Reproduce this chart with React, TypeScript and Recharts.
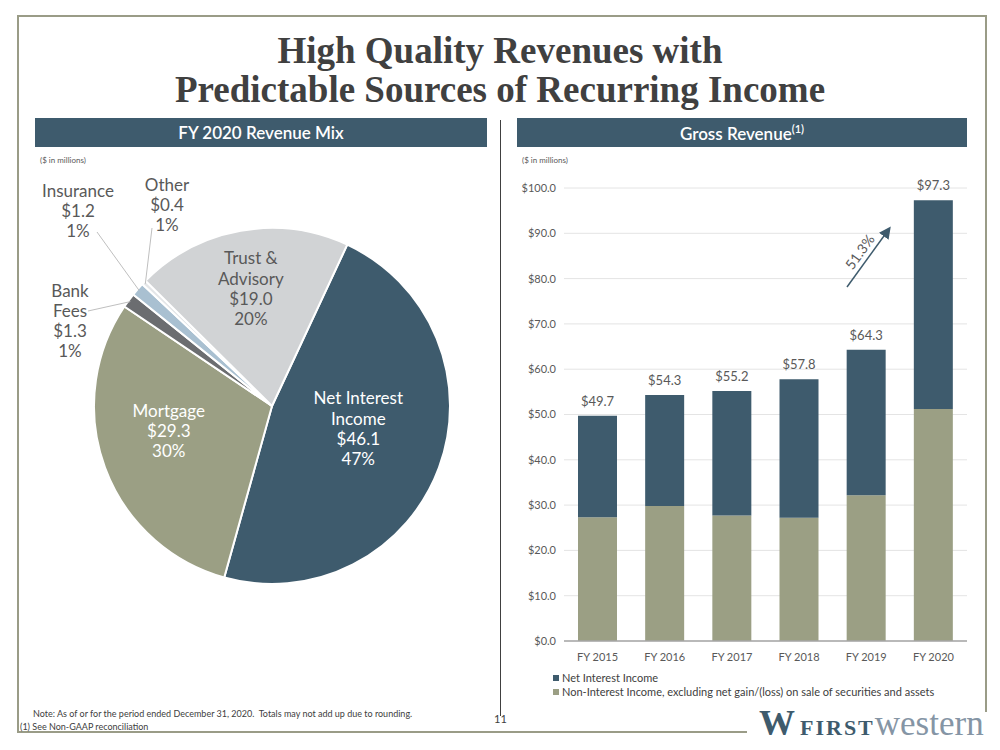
import React from "react";
import {
  PieChart,
  Pie,
  Cell,
  BarChart,
  Bar,
  XAxis,
  YAxis,
  CartesianGrid,
  LabelList,
} from "recharts";

// FY 2020 revenue mix ($ in millions), clockwise from the top-right
const mixNames = ["Net Interest Income", "Mortgage", "Bank Fees", "Insurance", "Other", "Trust & Advisory"];
const mixValues = [46.1, 29.3, 1.3, 1.2, 0.4, 19.0];
const mixShares = [47, 30, 1, 1, 1, 20];
const mixColors = ["#3e5b6d", "#9b9f84", "#6b6d70", "#a9c0d1", "#e4e6e8", "#d1d3d5"];

// gross revenue by year
const years = ["FY 2015", "FY 2016", "FY 2017", "FY 2018", "FY 2019", "FY 2020"];
const nonInterestIncome = [27.3, 29.8, 27.7, 27.2, 32.2, 51.2];
const netInterestIncome = [22.4, 24.5, 27.5, 30.6, 32.1, 46.1];
const grossTotals = [49.7, 54.3, 55.2, 57.8, 64.3, 97.3];
const yTicks = [0, 10, 20, 30, 40, 50, 60, 70, 80, 90, 100];

const SLATE = "#3e5b6d";
const OLIVE = "#9b9f84";
const TEXT = "#595959";
const FONT = "Lato, 'Noto Sans', sans-serif";

const pieData = mixNames.map((name, i) => ({
  name,
  value: mixValues[i],
  share: mixShares[i],
}));

const barData = years.map((year, i) => ({
  year,
  nonInterest: nonInterestIncome[i],
  netInterest: netInterestIncome[i],
  total: grossTotals[i],
}));

// label placement per slice: inside ones use a radius, outside ones an offset from centre
const labelLayout: Record<string, any> = {
  "Net Interest Income": { r: 92, dy: -10, color: "#fff", lines: ["Net Interest", "Income"] },
  Mortgage: { r: 110, dy: -14, color: "#fff", lines: ["Mortgage"] },
  "Trust & Advisory": { r: 120, dy: 0, color: TEXT, lines: ["Trust &", "Advisory"] },
  "Bank Fees": { ox: -202, oy: -86, lines: ["Bank", "Fees"], lead: [-184, -95] },
  Insurance: { ox: -194, oy: -196, lines: ["Insurance"], lead: [-175, -174] },
  Other: { ox: -105, oy: -202, lines: ["Other"], lead: [-120, -178] },
};

const RAD = Math.PI / 180;

function renderPieLabel(props: any) {
  const { cx, cy, midAngle, outerRadius, payload, name } = props;
  const key = name ?? payload?.name;
  const lay = labelLayout[key];
  if (!lay) return null;
  const value = payload?.value ?? props.value;
  const share = payload?.share;
  const lines = [...lay.lines, `$${Number(value).toFixed(1)}`, `${share}%`];
  const lh = 20.3;
  if (lay.r !== undefined) {
    const x = cx + lay.r * Math.cos(-midAngle * RAD);
    const y = cy + lay.r * Math.sin(-midAngle * RAD) + lay.dy;
    const startY = y - ((lines.length - 1) * lh) / 2;
    return (
      <text x={x} y={startY} fill={lay.color} fontSize={17} fontFamily={FONT} textAnchor="middle" dominantBaseline="central">
        {lines.map((l: string, i: number) => (
          <tspan key={i} x={x} dy={i === 0 ? 0 : lh}>
            {l}
          </tspan>
        ))}
      </text>
    );
  }
  const x = cx + lay.ox;
  const y = cy + lay.oy;
  const startY = y - ((lines.length - 1) * lh) / 2;
  const ex = cx + (outerRadius - 2) * Math.cos(-midAngle * RAD);
  const ey = cy + (outerRadius - 2) * Math.sin(-midAngle * RAD);
  return (
    <g>
      <polyline
        points={`${cx + lay.lead[0]},${cy + lay.lead[1]} ${ex},${ey}`}
        fill="none"
        stroke="#bfbfbf"
        strokeWidth={1}
      />
      <text x={x} y={startY} fill={TEXT} fontSize={17} fontFamily={FONT} textAnchor="middle" dominantBaseline="central">
        {lines.map((l: string, i: number) => (
          <tspan key={i} x={x} dy={i === 0 ? 0 : lh}>
            {l}
          </tspan>
        ))}
      </text>
    </g>
  );
}

function HeaderBar({ left, width, children }: any) {
  return (
    <div
      style={{
        position: "absolute",
        left,
        top: 118,
        width,
        height: 29,
        background: SLATE,
        color: "#fff",
        fontFamily: FONT,
        fontWeight: 600,
        fontSize: 17,
        display: "flex",
        alignItems: "center",
        justifyContent: "center",
      }}
    >
      {children}
    </div>
  );
}

export default function App() {
  return (
    <div
      style={{
        position: "absolute",
        left: 0,
        top: 0,
        width: 1000,
        height: 750,
        background: "#fff",
        overflow: "hidden",
        fontFamily: FONT,
      }}
    >
      {/* frame */}
      <div style={{ position: "absolute", left: 17, top: 15, width: 970, height: 2, background: "#9a9c87" }} />
      <div style={{ position: "absolute", left: 17, top: 15, width: 2, height: 718, background: "#9a9c87" }} />
      <div style={{ position: "absolute", left: 985, top: 15, width: 2, height: 697, background: "#9a9c87" }} />
      <div style={{ position: "absolute", left: 17, top: 731, width: 730, height: 2, background: "#9a9c87" }} />

      {/* title */}
      <div
        style={{
          position: "absolute",
          left: 0,
          top: 31,
          width: 1000,
          textAlign: "center",
          fontFamily: "'Liberation Serif', serif",
          fontWeight: 700,
          fontSize: 37,
          lineHeight: "39px",
          color: "#404040",
        }}
      >
        High Quality Revenues with
        <br />
        Predictable Sources of Recurring Income
      </div>

      <HeaderBar left={35} width={452}>
        FY 2020 Revenue Mix
      </HeaderBar>
      <HeaderBar left={517} width={450}>
        <span>
          Gross Revenue<sup style={{ fontSize: 11 }}>(1)</sup>
        </span>
      </HeaderBar>

      {/* divider */}
      <div style={{ position: "absolute", left: 500, top: 120, width: 1, height: 596, background: "#404040" }} />

      <div style={{ position: "absolute", left: 40, top: 155, fontSize: 8, color: TEXT }}>($ in millions)</div>
      <div style={{ position: "absolute", left: 522, top: 155, fontSize: 8, color: TEXT }}>($ in millions)</div>

      {/* pie */}
      <div style={{ position: "absolute", left: 35, top: 170 }}>
        <PieChart width={460} height={430}>
          <Pie
            data={pieData}
            dataKey="value"
            nameKey="name"
            cx={232}
            cy={231}
            outerRadius={178}
            startAngle={65}
            endAngle={-295}
            stroke="#fff"
            strokeWidth={2}
            label={renderPieLabel}
            labelLine={false}
            isAnimationActive={false}
          >
            {pieData.map((d, i) => (
              <Cell key={d.name} fill={mixColors[i]} />
            ))}
          </Pie>
        </PieChart>
      </div>

      {/* stacked bars */}
      <div style={{ position: "absolute", left: 505, top: 160 }}>
        <BarChart width={480} height={520} data={barData} margin={{ top: 28, right: 18, bottom: 9, left: 0 }} barSize={39}>
          <CartesianGrid vertical={false} stroke="#e4e4e4" />
          <XAxis
            dataKey="year"
            tickLine={false}
            tickMargin={6}
            axisLine={{ stroke: "#a6a6a6", strokeWidth: 1.5 }}
            tick={{ fill: TEXT, fontSize: 11, fontFamily: FONT }}
            height={30}
          />
          <YAxis
            domain={[0, 100]}
            ticks={yTicks}
            interval={0}
            width={59}
            axisLine={false}
            tickLine={false}
            tickFormatter={(v: number) => `$${v.toFixed(1)}`}
            tick={{ fill: TEXT, fontSize: 11, fontFamily: FONT }}
          />
          <Bar dataKey="nonInterest" stackId="rev" fill={OLIVE} isAnimationActive={false} />
          <Bar dataKey="netInterest" stackId="rev" fill={SLATE} isAnimationActive={false}>
            <LabelList
              dataKey="total"
              position="top"
              offset={10}
              formatter={(v: any) => `$${Number(v).toFixed(1)}`}
              style={{ fill: TEXT, fontSize: 13, fontFamily: FONT }}
            />
          </Bar>
        </BarChart>
      </div>

      {/* growth arrow */}
      <svg style={{ position: "absolute", left: 0, top: 0 }} width={1000} height={750}>
        <defs>
          <marker id="ah" markerWidth="8" markerHeight="8" refX="6" refY="4" orient="auto">
            <path d="M0,0 L8,4 L0,8 z" fill={SLATE} />
          </marker>
        </defs>
        <line x1={847} y1={287} x2={889} y2={229} stroke={SLATE} strokeWidth={1.5} markerEnd="url(#ah)" />
        <text
          x={864}
          y={255}
          fill={TEXT}
          fontSize={14}
          fontFamily={FONT}
          textAnchor="middle"
          transform="rotate(-54 864 255)"
        >
          51.3%
        </text>
      </svg>

      {/* legend */}
      <div style={{ position: "absolute", left: 553, top: 671, fontSize: 11, color: "#404040", lineHeight: "14px" }}>
        <div style={{ display: "flex", alignItems: "center" }}>
          <span style={{ width: 6, height: 6, background: SLATE, marginRight: 3, display: "inline-block" }} />
          Net Interest Income
        </div>
        <div style={{ display: "flex", alignItems: "center" }}>
          <span style={{ width: 6, height: 6, background: OLIVE, marginRight: 3, display: "inline-block" }} />
          Non-Interest Income, excluding net gain/(loss) on sale of securities and assets
        </div>
      </div>

      {/* footer */}
      <div style={{ position: "absolute", left: 33, top: 708, fontSize: 9, color: "#404040" }}>
        Note: As of or for the period ended December 31, 2020.&nbsp; Totals may not add up due to rounding.
      </div>
      <div style={{ position: "absolute", left: 20, top: 721, fontSize: 9, color: "#404040" }}>
        (1) See Non-GAAP reconciliation
      </div>
      <div style={{ position: "absolute", left: 494, top: 712, fontSize: 11, color: "#404040" }}>11</div>

      {/* logo */}
      <div
        style={{
          position: "absolute",
          left: 759,
          top: 702,
          fontFamily: "'Liberation Serif', serif",
          whiteSpace: "nowrap",
          display: "flex",
          alignItems: "baseline",
        }}
      >
        <span style={{ fontSize: 36, fontWeight: 700, color: SLATE, marginRight: 5 }}>W</span>
        <span style={{ fontSize: 22, fontWeight: 700, color: SLATE, letterSpacing: 2 }}>FIRST</span>
        <span style={{ fontSize: 35, color: "#8595a5" }}>western</span>
      </div>
    </div>
  );
}
